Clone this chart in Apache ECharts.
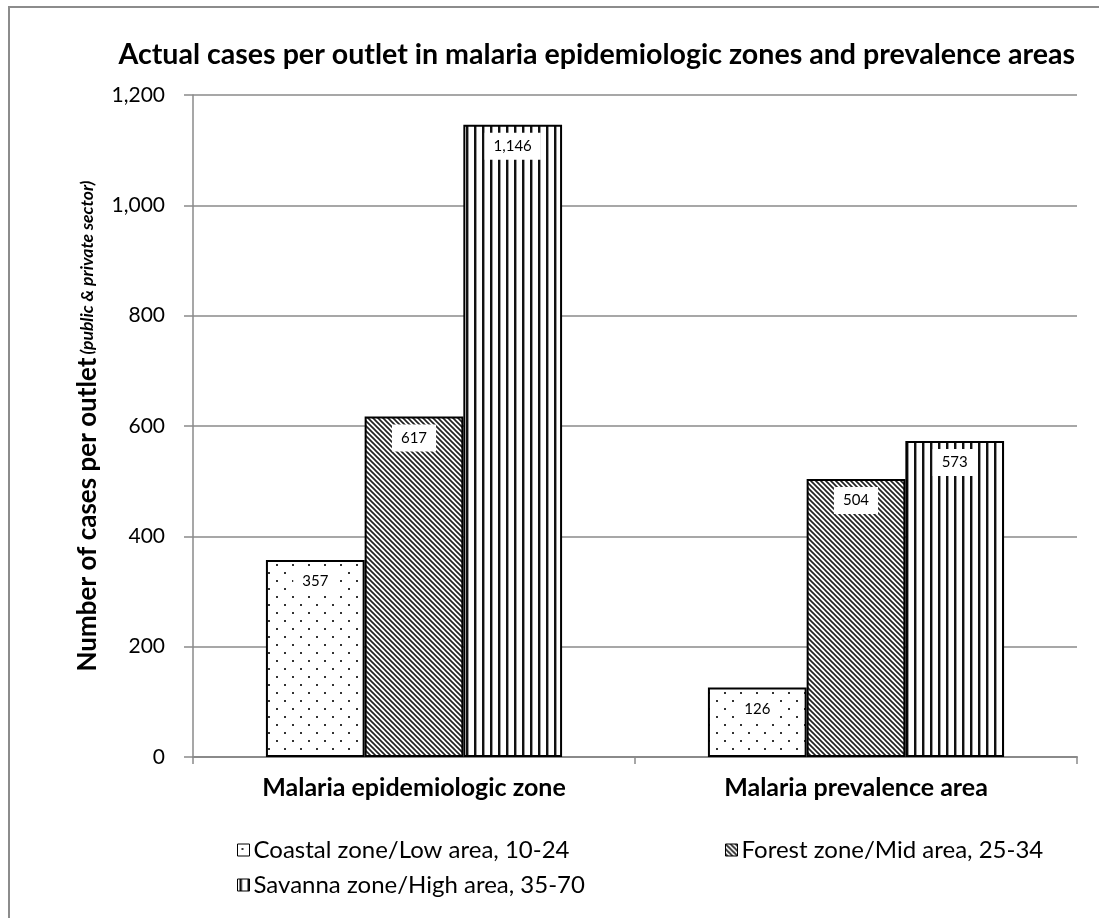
<!DOCTYPE html>
<html><head><meta charset="utf-8">
<script src="https://cdn.jsdelivr.net/npm/echarts@6/dist/echarts.min.js"></script>
<style>html,body{margin:0;padding:0;background:#fff}#c{width:1099px;height:918px}</style>
</head><body><div id="c"></div>
<script>
const categories = ['Malaria epidemiologic zone', 'Malaria prevalence area'];
const seriesNames = ['Coastal zone/Low area, 10-24', 'Forest zone/Mid area, 25-34', 'Savanna zone/High area, 35-70'];
const coastal = [357, 126];
const forest = [617, 504];
const savanna = [1146, 573];
const yTicks = [0, 200, 400, 600, 800, 1000, 1200];

const FONT = 'Lato, "Noto Sans", sans-serif';

function mk(w, h, draw) {
  const c = document.createElement('canvas');
  c.width = w; c.height = h;
  const g = c.getContext('2d');
  g.fillStyle = '#fff'; g.fillRect(0, 0, w, h);
  draw(g, w, h);
  return c;
}
const dots = mk(16, 16, g => {
  g.fillStyle = '#333';
  g.fillRect(4, 4, 2, 2);
  g.fillRect(12, 12, 2, 2);
});
const diag = mk(5, 5, (g, s) => {
  g.strokeStyle = '#222'; g.lineWidth = 1.7;
  for (const c of [-s, 0, s]) {
    g.beginPath(); g.moveTo(-1, c - 1); g.lineTo(s + 1, s + c + 1); g.stroke();
  }
});
const vert = mk(8, 4, g => {
  g.fillStyle = '#111'; g.fillRect(2, 0, 2, 4);
  g.fillStyle = '#999'; g.fillRect(4, 0, 1, 4);
});
const patterns = [dots, diag, vert];
const values = [coastal, forest, savanna];

const chart = echarts.init(document.getElementById('c'));
const gridColor = '#8a8a8a';

chart.setOption({
  animation: false,
  backgroundColor: '#fff',
  textStyle: { fontFamily: FONT },
  graphic: [{
    type: 'rect', shape: { x: 9, y: 7, width: 1200, height: 1000 },
    style: { fill: 'none', stroke: '#8c8c8c', lineWidth: 2 }, silent: true, z: -1
  }],
  title: {
    text: 'Actual cases per outlet in malaria epidemiologic zones and prevalence areas',
    right: 19, top: 35,
    textStyle: { fontFamily: FONT, fontSize: 28.6, fontWeight: 'bold', color: '#000' }
  },
  grid: { left: 193, right: 22, top: 95, bottom: 161, containLabel: false },
  legend: seriesNames.map((n, i) => ({
    data: [n],
    left: i === 1 ? 720 : 232,
    top: i === 2 ? 868 : 833,
    itemWidth: 12, itemHeight: 12, itemGap: 4,
    icon: 'rect',
    itemStyle: { borderColor: '#000', borderWidth: 1 },
    textStyle: { fontFamily: FONT, fontSize: 24, color: '#000', padding: [0, 0, 0, -1] }
  })),
  xAxis: {
    type: 'category', data: categories,
    axisLine: { lineStyle: { color: gridColor, width: 2 } },
    axisTick: { show: true, length: 7, lineStyle: { color: gridColor, width: 1.5 } },
    axisLabel: { fontFamily: FONT, fontSize: 25, fontWeight: 'bold', color: '#000', margin: 18 }
  },
  yAxis: {
    type: 'value', min: 0, max: 1200, interval: 200,
    name: '{a|Number of cases per outlet} {b|(public & private sector)}',
    nameLocation: 'middle', nameGap: 73,
    nameTextStyle: {
      rich: {
        a: { fontFamily: FONT, fontSize: 26, fontWeight: 'bold', color: '#000' },
        b: { fontFamily: FONT, fontSize: 17.5, fontWeight: 'bold', fontStyle: 'italic', color: '#000' }
      }
    },
    axisLine: { show: true, lineStyle: { color: gridColor, width: 1.5 } },
    axisTick: { show: true, length: 9, lineStyle: { color: gridColor, width: 1.5 } },
    splitLine: { lineStyle: { color: gridColor, width: 1.5 } },
    axisLabel: {
      fontFamily: FONT, fontSize: 21, color: '#000', margin: 28,
      formatter: v => yTicks.includes(v) ? v.toLocaleString('en-US') : ''
    }
  },
  series: seriesNames.map((n, i) => ({
    name: n, type: 'bar', data: values[i],
    barGap: '0%', barCategoryGap: '33%',
    itemStyle: { color: { image: patterns[i], repeat: 'repeat' }, borderColor: '#000', borderWidth: 2 },
    label: {
      show: true, position: 'insideTop', distance: 8,
      formatter: p => p.value.toLocaleString('en-US'),
      backgroundColor: '#fff', padding: [6, 9],
      fontFamily: FONT, fontSize: 15, color: '#000'
    }
  }))
});
</script>
</body></html>
